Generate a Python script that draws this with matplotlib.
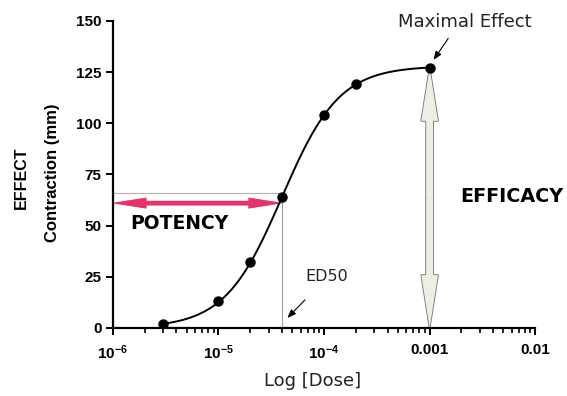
import numpy as np
import matplotlib
matplotlib.use("Agg")
import matplotlib.pyplot as plt
from matplotlib import ticker

# measured points (dose in M, contraction in mm)
dose = [3e-6, 1e-5, 2e-5, 4e-5, 1e-4, 2e-4, 1e-3]
contraction = [2, 13, 32, 64, 104, 119, 127]

# fitted Hill curve parameters
emax = 128.0
ed50 = 4e-5
hill = 1.6
potency_level = 61      # y of the pink arrow
guide_level = 66        # y of the grey guide line

x_ticks = [1e-6, 1e-5, 1e-4, 1e-3, 1e-2]
x_ticklabels = ["$10^{-6}$", "$10^{-5}$", "$10^{-4}$", "0.001", "0.01"]
y_ticks = [0, 25, 50, 75, 100, 125, 150]

plt.rcParams["mathtext.fontset"] = "custom"
plt.rcParams["mathtext.rm"] = "Liberation Sans:bold"
plt.rcParams["mathtext.it"] = "Liberation Sans:bold"
plt.rcParams["mathtext.bf"] = "Liberation Sans:bold"

fig = plt.figure(figsize=(5.67, 3.96), dpi=100, facecolor="white")
ax = fig.add_axes([0.199, 0.172, 0.745, 0.775])

# smooth fitted curve between first and last dose
xs = np.logspace(np.log10(dose[0]), np.log10(dose[-1]), 300)
ys = emax / (1 + (ed50 / xs) ** hill)
ax.plot(xs, ys, color="black", lw=1.4, zorder=3)
ax.plot(dose, contraction, "o", color="black", ms=6.5, zorder=4)

ax.set_xscale("log")
ax.set_xlim(1e-6, 1e-2)
ax.set_ylim(0, 150)

# guide lines to ED50
ax.plot([1e-6, ed50], [guide_level, guide_level], color="#b0b0b0", lw=0.8, zorder=1)
ax.plot([ed50, ed50], [0, contraction[3]], color="#a0a0a0", lw=0.8, zorder=1)


def double_arrow(x0, y0, x1, y1, mx, my, style, fc, ec, lw):
    # two single-headed arrows meeting in the middle; a second fill-only
    # pass hides the seam where they join
    for pass_ec, pass_lw, z in [(ec, lw, 2), (fc, 0, 2.1)]:
        for tx, ty in [(x0, y0), (x1, y1)]:
            ax.annotate("", xy=(tx, ty), xytext=(mx, my),
                        arrowprops=dict(arrowstyle=style, mutation_scale=1,
                                        fc=fc, ec=pass_ec, lw=pass_lw,
                                        shrinkA=0, shrinkB=0), zorder=z)


# potency arrow
pot_mid = np.sqrt(1e-6 * ed50)
double_arrow(1e-6, potency_level, ed50, potency_level, pot_mid, potency_level,
             "simple,head_length=24,head_width=7.5,tail_width=3",
             "#e8336a", "#e8336a", 0.3)

# efficacy arrow
mid = contraction[-1] / 2
double_arrow(dose[-1], contraction[-1], dose[-1], 0, dose[-1], mid,
             "simple,head_length=38,head_width=12,tail_width=5",
             "#efeee2", "#7a7a7a", 1.3)

# labels and small arrows
ax.text(2.17e-3, 149.5, "Maximal Effect", fontsize=13, ha="center", va="center",
        family="DejaVu Sans", color="#222222")
ax.annotate("", xy=(1.09e-3, 131), xytext=(1.5e-3, 141.5),
            arrowprops=dict(arrowstyle="-|>,head_length=0.5,head_width=0.2",
                            color="black", lw=0.8, shrinkA=0, shrinkB=0))
ax.text(6.6e-5, 25, "ED50", fontsize=11.5, ha="left", va="center",
        family="DejaVu Sans", color="#222222")
ax.annotate("", xy=(4.5e-5, 4.9), xytext=(6.6e-5, 13.7),
            arrowprops=dict(arrowstyle="-|>,head_length=0.5,head_width=0.2",
                            color="black", lw=0.8, shrinkA=0, shrinkB=0))
ax.text(1.45e-6, 51, "POTENCY", fontsize=13.5, fontweight="bold", ha="left",
        va="center", family="DejaVu Sans")
ax.text(1.94e-3, 64, "EFFICACY", fontsize=13.8, fontweight="bold", ha="left",
        va="center", family="DejaVu Sans")

# axes styling
for side in ["top", "right"]:
    ax.spines[side].set_visible(False)
for side in ["left", "bottom"]:
    ax.spines[side].set_linewidth(1.6)

ax.xaxis.set_major_locator(ticker.FixedLocator(x_ticks))
ax.xaxis.set_major_formatter(ticker.FixedFormatter(x_ticklabels))
ax.xaxis.set_minor_locator(ticker.LogLocator(base=10, subs=np.arange(2, 10), numticks=20))
ax.xaxis.set_minor_formatter(ticker.NullFormatter())
ax.set_yticks(y_ticks)

ax.tick_params(axis="both", which="major", direction="out", length=5, width=1.4,
               labelsize=11, pad=3)
ax.tick_params(axis="x", which="major", pad=6)
ax.tick_params(axis="x", which="minor", direction="out", length=3.5, width=1.2)
for lab in ax.get_xticklabels() + ax.get_yticklabels():
    lab.set_fontfamily("Liberation Sans")
    lab.set_fontweight("bold")

ax.set_xlabel("Log [Dose]", fontsize=13, family="DejaVu Sans", color="#222222")
ax.xaxis.set_label_coords(0.472, -0.145)

fig.text(0.037, 0.55, "EFFECT", rotation=90, fontsize=11.5, fontweight="bold",
         family="Liberation Sans", ha="center", va="center")
fig.text(0.092, 0.565, "Contraction (mm)", rotation=90, fontsize=12,
         fontweight="bold", family="Liberation Sans", ha="center", va="center")

fig.savefig("out.png", dpi=100)
